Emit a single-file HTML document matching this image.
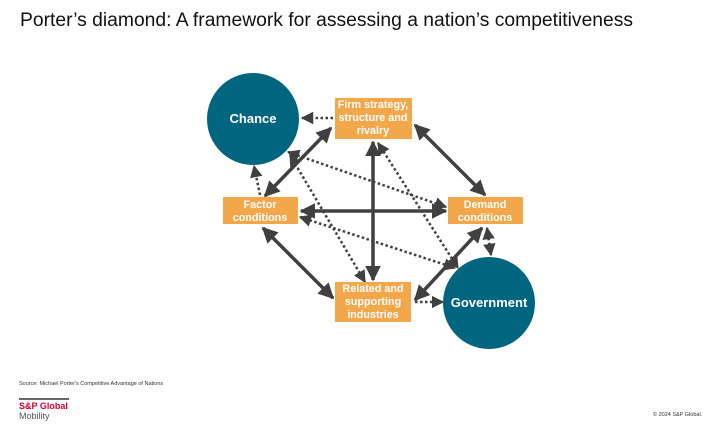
<!DOCTYPE html>
<html><head><meta charset="utf-8"><style>
body{margin:0;width:719px;height:427px;background:#fff;overflow:hidden;font-family:"Liberation Sans",sans-serif;position:relative}
.t{position:absolute;white-space:nowrap}
</style></head><body>
<div class="t" style="left:20px;top:10px;font-size:19.3px;color:#111">Porter’s diamond: A framework for assessing a nation’s competitiveness</div>
<svg width="719" height="427" style="position:absolute;left:0;top:0">
<defs>
<marker id="a" viewBox="0 0 10 10" refX="9" refY="5" markerWidth="4.5" markerHeight="4.5" orient="auto-start-reverse"><path d="M0,0L10,5L0,10z" fill="#404040"/></marker>
<marker id="d" viewBox="0 0 10 10" refX="9" refY="5" markerWidth="5" markerHeight="5" orient="auto-start-reverse"><path d="M0,0L10,5L0,10z" fill="#404040"/></marker>
</defs>
<circle cx="253" cy="119" r="46" fill="#006680"/>
<circle cx="489" cy="303" r="46" fill="#006680"/>
<g stroke="#404040" stroke-width="2.5" fill="none" stroke-dasharray="2.5,2.5" marker-start="url(#d)" marker-end="url(#d)">
<line x1="333" y1="118" x2="302" y2="118" marker-start="none"/>
<line x1="260" y1="195" x2="254" y2="166" marker-start="none"/>
<line x1="288" y1="152" x2="446" y2="207"/>
<line x1="290" y1="155" x2="365" y2="282"/>
<line x1="378" y1="143" x2="458" y2="268"/>
<line x1="300" y1="217" x2="455" y2="268"/>
<line x1="487" y1="228" x2="491" y2="255"/>
<line x1="415" y1="302" x2="443" y2="302" marker-start="none"/>
</g>
<g stroke="#404040" stroke-width="3.5" fill="none" marker-start="url(#a)" marker-end="url(#a)">
<line x1="331" y1="128" x2="265" y2="196"/>
<line x1="415" y1="125" x2="485" y2="195"/>
<line x1="301" y1="211" x2="446" y2="211"/>
<line x1="373" y1="142" x2="373" y2="280"/>
<line x1="263" y1="228" x2="333" y2="298"/>
<line x1="482" y1="228" x2="415" y2="300"/>
</g>
<g fill="#f2a74a">
<rect x="335" y="98" width="77" height="41"/>
<rect x="223" y="197" width="75" height="27"/>
<rect x="448" y="197" width="75" height="27"/>
<rect x="335" y="282" width="76" height="40"/>
</g>
<g fill="#fff" font-family="Liberation Sans" font-weight="bold" font-size="10.8" text-anchor="middle">
<text x="253" y="123" font-size="13">Chance</text>
<text x="489" y="307" font-size="13">Government</text>
<text x="373" y="108">Firm strategy,</text><text x="373" y="121">structure and</text><text x="373" y="134">rivalry</text>
<text x="260" y="208">Factor</text><text x="260" y="221">conditions</text>
<text x="485" y="208">Demand</text><text x="485" y="221">conditions</text>
<text x="373" y="292">Related and</text><text x="373" y="305">supporting</text><text x="373" y="318">industries</text>
</g>
<line x1="19" y1="399" x2="69" y2="399" stroke="#333" stroke-width="1.5"/>
</svg>
<div class="t" style="left:19px;top:381px;font-size:5.5px;color:#333">Source: Michael Porter's Competitive Advantage of Nations</div>
<div class="t" style="left:19px;top:401px;font-size:9px;font-weight:bold;color:#d6002a">S&amp;P Global</div>
<div class="t" style="left:19px;top:411px;font-size:9px;color:#555">Mobility</div>
<div class="t" style="left:653px;top:412px;font-size:5.5px;color:#333">© 2024 S&amp;P Global.</div>
</body></html>
